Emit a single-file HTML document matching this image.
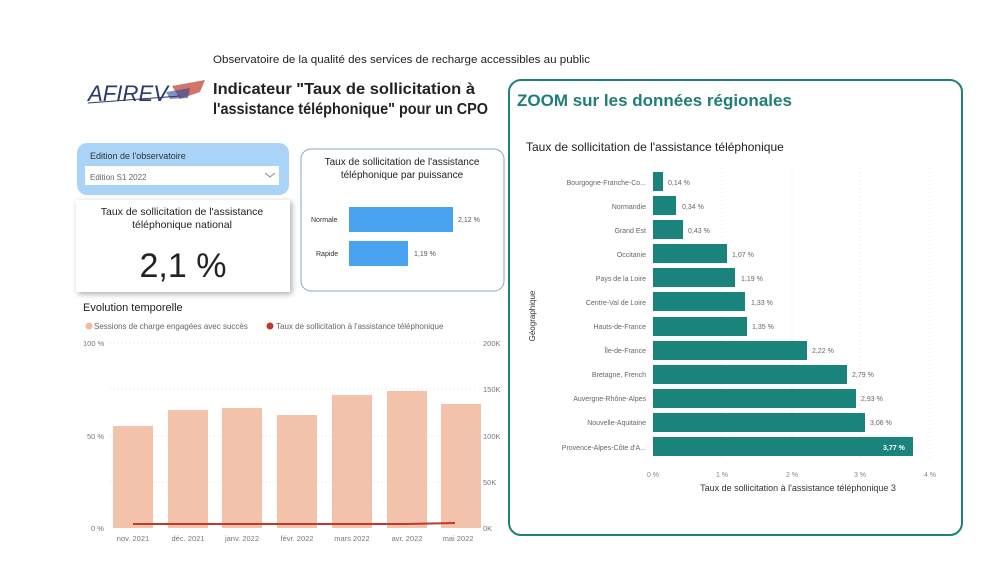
<!DOCTYPE html>
<html><head><meta charset="utf-8"><style>
body{margin:0;background:#fff;width:1000px;height:562px;overflow:hidden;font-family:"Liberation Sans",sans-serif;}
svg text{font-family:"Liberation Sans",sans-serif;}
</style></head><body>
<svg width="1000" height="562" xmlns="http://www.w3.org/2000/svg">
<rect width="1000" height="562" fill="#fff"/>
<text x="213" y="63" font-size="11" fill="#222" textLength="377" lengthAdjust="spacingAndGlyphs">Observatoire de la qualité des services de recharge accessibles au public</text>
<!-- logo -->
<text x="88" y="101" font-size="22" font-style="italic" fill="#2a3a6a" font-family="Liberation Serif" textLength="80" lengthAdjust="spacingAndGlyphs">AFIREV</text>
<path d="M172 86 L205 80 L200 92 L180 99 Z" fill="#c0392b" opacity="0.7"/>
<path d="M166 92 L190 88 L188 98 L170 99 Z" fill="#2a4a9a" opacity="0.6"/>
<line x1="88" y1="103" x2="180" y2="96" stroke="#2a3a6a" stroke-width="1"/>
<text x="213" y="94" font-size="15.5" font-weight="bold" fill="#222" textLength="262" lengthAdjust="spacingAndGlyphs">Indicateur "Taux de sollicitation à</text>
<text x="213" y="114" font-size="15.5" font-weight="bold" fill="#222" textLength="275" lengthAdjust="spacingAndGlyphs">l'assistance téléphonique" pour un CPO</text>
<!-- slicer -->
<rect x="77" y="143" width="212" height="52" rx="10" fill="#a9d3f7"/>
<text x="90" y="159" font-size="9" fill="#333">Edition de l'observatoire</text>
<rect x="85" y="166" width="194" height="19" fill="#fff"/>
<text x="90" y="180" font-size="8" fill="#666">Edition S1 2022</text>
<path d="M265 173 l5 4 l5 -4" stroke="#888" fill="none" stroke-width="1"/>
<!-- KPI card -->
<rect x="76" y="200" width="214" height="92" fill="#fff" style="filter:drop-shadow(2px 2px 3px #aaa)"/>
<text x="182" y="215" font-size="10.5" fill="#222" text-anchor="middle">Taux de sollicitation de l'assistance</text>
<text x="182" y="228" font-size="10.5" fill="#222" text-anchor="middle">téléphonique national</text>
<text x="183" y="277" font-size="34" fill="#222" text-anchor="middle">2,1 %</text>
<!-- puissance card -->
<rect x="301" y="149" width="203" height="142" rx="10" fill="#fff" stroke="#8aa6b8" stroke-width="1"/>
<text x="402" y="165" font-size="10" fill="#222" text-anchor="middle">Taux de sollicitation de l'assistance</text>
<text x="402" y="178" font-size="10" fill="#222" text-anchor="middle">téléphonique par puissance</text>
<rect x="349" y="207" width="104" height="25" fill="#4aa3f0"/>
<rect x="349" y="241" width="59" height="25" fill="#4aa3f0"/>
<text x="311" y="222" font-size="7" fill="#333">Normale</text>
<text x="316" y="256" font-size="7" fill="#333">Rapide</text>
<text x="458" y="222" font-size="7" fill="#555">2,12 %</text>
<text x="414" y="256" font-size="7" fill="#555">1,19 %</text>
<!-- evolution -->
<text x="83" y="311" font-size="11" fill="#222">Evolution temporelle</text>
<circle cx="89" cy="326" r="3.5" fill="#f2b9a0"/>
<text x="94" y="329" font-size="8" fill="#666">Sessions de charge engagées avec succès</text>
<circle cx="270" cy="326" r="3.5" fill="#c0392b"/>
<text x="276" y="329" font-size="8" fill="#666">Taux de sollicitation à l'assistance téléphonique</text>
<g stroke="#ddd" stroke-dasharray="1,3" stroke-width="1">
<line x1="110" y1="343" x2="478" y2="343"/><line x1="110" y1="389" x2="478" y2="389"/>
<line x1="110" y1="436" x2="478" y2="436"/><line x1="110" y1="482" x2="478" y2="482"/>
</g>
<g font-size="7.5" fill="#777">
<text x="83" y="346">100 %</text><text x="87" y="439">50 %</text><text x="91" y="531">0 %</text>
<text x="483" y="346">200K</text><text x="483" y="392">150K</text><text x="483" y="439">100K</text><text x="483" y="485">50K</text><text x="483" y="531">0K</text>
</g>
<g fill="#f3c2ab">
<rect x="113" y="426" width="40" height="102"/><rect x="168" y="410" width="40" height="118"/>
<rect x="222" y="408" width="40" height="120"/><rect x="277" y="415" width="40" height="113"/>
<rect x="332" y="395" width="40" height="133"/><rect x="387" y="391" width="40" height="137"/>
<rect x="441" y="404" width="40" height="124"/>
</g>
<polyline points="133,524 188,524 242,524 297,524 352,524 407,524 455,523" stroke="#c0392b" stroke-width="2" fill="none"/>
<g font-size="7.5" fill="#777" text-anchor="middle">
<text x="133" y="541">nov. 2021</text><text x="188" y="541">déc. 2021</text><text x="242" y="541">janv. 2022</text>
<text x="297" y="541">févr. 2022</text><text x="352" y="541">mars 2022</text><text x="407" y="541">avr. 2022</text><text x="458" y="541">mai 2022</text>
</g>
<!-- regional panel -->
<rect x="509" y="80" width="453" height="455" rx="12" fill="#fff" stroke="#1e8079" stroke-width="2"/>
<text x="517" y="106" font-size="17" font-weight="bold" fill="#1e7d77">ZOOM sur les données régionales</text>
<text x="526" y="151" font-size="12" fill="#222">Taux de sollicitation de l'assistance téléphonique</text>
<g stroke="#e4e4e4" stroke-dasharray="1,3"><line x1="722" y1="168" x2="722" y2="460"/><line x1="792" y1="168" x2="792" y2="460"/><line x1="860" y1="168" x2="860" y2="460"/><line x1="930" y1="168" x2="930" y2="460"/></g>
<g fill="#19837c">
<rect x="653" y="172" width="10" height="19"/><rect x="653" y="196" width="23" height="19"/>
<rect x="653" y="220" width="30" height="19"/><rect x="653" y="244" width="74" height="19"/>
<rect x="653" y="268" width="82" height="19"/><rect x="653" y="292" width="92" height="19"/>
<rect x="653" y="317" width="94" height="19"/><rect x="653" y="341" width="154" height="19"/>
<rect x="653" y="365" width="194" height="19"/><rect x="653" y="389" width="203" height="19"/>
<rect x="653" y="413" width="212" height="19"/><rect x="653" y="437" width="260" height="19"/>
</g>
<g font-size="7" fill="#666" text-anchor="end">
<text x="646" y="185">Bourgogne-Franche-Co...</text><text x="646" y="209">Normandie</text><text x="646" y="233">Grand Est</text>
<text x="646" y="257">Occitanie</text><text x="646" y="281">Pays de la Loire</text><text x="646" y="305">Centre-Val de Loire</text>
<text x="646" y="329">Hauts-de-France</text><text x="646" y="353">Île-de-France</text><text x="646" y="377">Bretagne, French</text>
<text x="646" y="401">Auvergne-Rhône-Alpes</text><text x="646" y="425">Nouvelle-Aquitaine</text><text x="646" y="450">Provence-Alpes-Côte d'A...</text>
</g>
<g font-size="7" fill="#666">
<text x="668" y="185">0,14 %</text><text x="682" y="209">0,34 %</text><text x="688" y="233">0,43 %</text>
<text x="732" y="257">1,07 %</text><text x="741" y="281">1,19 %</text><text x="751" y="305">1,33 %</text>
<text x="752" y="329">1,35 %</text><text x="812" y="353">2,22 %</text><text x="852" y="377">2,79 %</text>
<text x="861" y="401">2,93 %</text><text x="870" y="425">3,06 %</text>
<text x="883" y="450" fill="#fff" font-weight="bold">3,77 %</text>
</g>
<g font-size="7" fill="#888" text-anchor="middle">
<text x="653" y="477">0 %</text><text x="722" y="477">1 %</text><text x="792" y="477">2 %</text><text x="860" y="477">3 %</text><text x="930" y="477">4 %</text>
</g>
<text x="798" y="491" font-size="9" fill="#333" text-anchor="middle">Taux de sollicitation à l'assistance téléphonique 3</text>
<text transform="translate(535,316) rotate(-90)" font-size="8" fill="#333" text-anchor="middle">Géographique</text>
</svg>
</body></html>
